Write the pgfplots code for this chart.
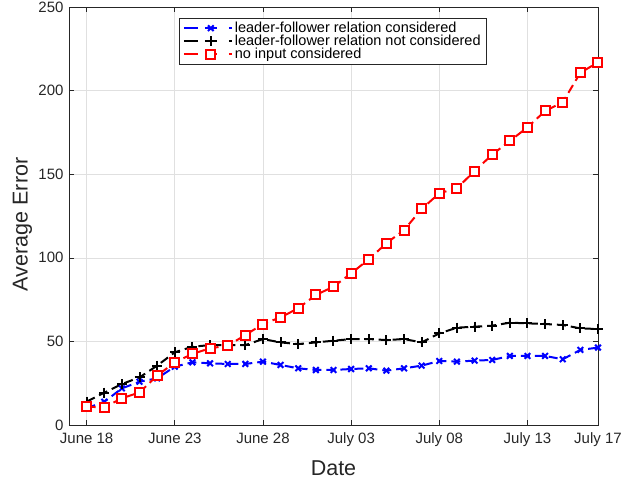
\documentclass[border=0pt]{standalone}
\usepackage{fontspec}
\setmainfont{Liberation Sans}
\usepackage{pgfplots}
\pgfplotsset{compat=1.18}

\definecolor{axgray}{rgb}{0.15,0.15,0.15}
\definecolor{gridgray}{rgb}{0.88,0.88,0.88}

\begin{document}
\begin{tikzpicture}
\useasboundingbox (-69pt,-58pt) rectangle (553pt,425pt);
\begin{axis}[
    scale only axis,
    width=529pt, height=418pt,
    xmin=-1, xmax=29,
    ymin=0, ymax=250,
    xtick={0,5,10,15,20,25,29},
    xticklabels={June 18,June 23,June 28,July 03,July 08,July 13,July 17},
    ytick={0,50,100,150,200,250},
    tick align=inside,
    major tick length=5pt,
    axis line style={axgray, line width=0.6pt},
    tick style={axgray, line width=0.6pt},
    grid=major,
    grid style={gridgray, line width=0.6pt},
    ticklabel style={font=\fontsize{15}{17}\selectfont, text=axgray},
    /pgf/number format/assume math mode=true,
    xticklabel style={yshift=-4.5pt},
    yticklabel style={xshift=-2pt},
    xlabel={Date},
    ylabel={Average Error},
    label style={font=\fontsize{21.5}{25}\selectfont, text=axgray},
    xlabel style={at={(axis description cs:0.5,-0.103)}, anchor=center},
    ylabel style={at={(axis description cs:-0.088,0.48)}, anchor=center},
    legend style={at={(rel axis cs:0.207,0.974)}, anchor=north west,
        font=\fontsize{14.5}{16}\selectfont, draw=axgray, line width=0.6pt,
        row sep=-3pt, inner sep=2pt, inner xsep=4pt},
    legend cell align=left,
    legend image code/.code={%
        \draw[mark repeat=2, mark phase=2,
              dash pattern=on 14pt off 7pt on 12pt off 12pt on 3pt off 10pt, #1]
        plot coordinates {(0pt,0pt) (27pt,0pt) (48pt,0pt)};},
]
\addplot+[blue, line width=2pt, dash pattern=on 9pt off 5pt,
    mark=x, mark size=4pt, mark options={solid, line width=2pt}]
coordinates {
(0,10.0) (1,13.9) (2,21.9) (3,25.9) (4,27.9) (5,34.9) (6,37.5) (7,36.9)
(8,36.5) (9,36.5) (10,37.9) (11,35.9) (12,33.9) (13,32.9) (14,32.9)
(15,33.5) (16,33.9) (17,32.5) (18,33.9) (19,35.5) (20,38.3) (21,37.9)
(22,38.5) (23,38.9) (24,41.3) (25,41.3) (26,41.3) (27,39.3) (28,44.9) (29,46.3)
};
\addlegendentry{leader-follower relation considered}
\addplot+[black, line width=2pt, dash pattern=on 9pt off 5pt,
    mark=+, mark size=5pt, mark options={solid, line width=2pt}]
coordinates {
(0,14.0) (1,19.3) (2,24.5) (3,28.5) (4,35.5) (5,43.5) (6,46.8) (7,47.8)
(8,47.8) (9,47.8) (10,51.4) (11,49.4) (12,48.4) (13,49.4) (14,50.4)
(15,51.4) (16,51.4) (17,50.8) (18,51.4) (19,49.4) (20,54.8) (21,58.2)
(22,58.8) (23,59.4) (24,61.2) (25,60.8) (26,60.4) (27,59.8) (28,57.8) (29,57.4)
};
\addlegendentry{leader-follower relation not considered}
\addplot+[red, line width=2pt, dash pattern=on 9pt off 5pt,
    mark=square*, mark size=4.5pt, mark options={solid, fill=white, line width=2pt}]
coordinates {
(0,10.9) (1,10.6) (2,16.0) (3,19.5) (4,29.5) (5,37.5) (6,42.5) (7,45.9)
(8,47.4) (9,53.8) (10,60.4) (11,64.4) (12,69.8) (13,77.8) (14,82.7)
(15,90.7) (16,99.1) (17,108.7) (18,116.6) (19,129.2) (20,138.6) (21,141.6)
(22,151.9) (23,161.7) (24,169.9) (25,178.0) (26,187.8) (27,193.0) (28,210.7) (29,216.9)
};
\addlegendentry{no input considered}
\end{axis}
\end{tikzpicture}
\end{document}
